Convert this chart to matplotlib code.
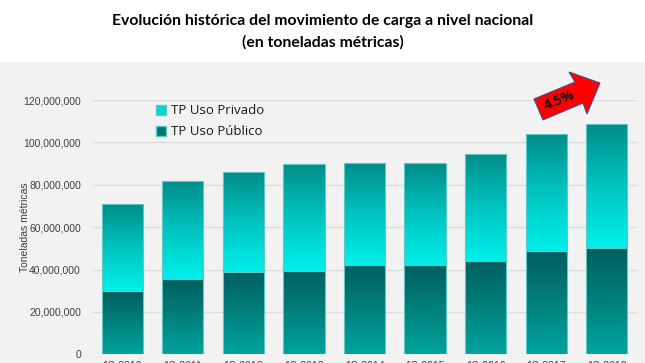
import numpy as np
import matplotlib
matplotlib.use("Agg")
import matplotlib.pyplot as plt
from matplotlib.colors import LinearSegmentedColormap
from matplotlib.patches import Patch, Polygon

categories = ["1S-2010", "1S-2011", "1S-2012", "1S-2013", "1S-2014",
              "1S-2015", "1S-2016", "1S-2017", "1S-2018"]
uso_publico = [29.8e6, 35.3e6, 38.9e6, 39.2e6, 42.2e6, 42.2e6, 43.9e6, 48.7e6, 50.1e6]
total = [70.7e6, 82.0e6, 86.0e6, 90.0e6, 90.4e6, 90.2e6, 94.6e6, 103.9e6, 108.6e6]
uso_privado = [t - p for t, p in zip(total, uso_publico)]
yticks = [0, 20e6, 40e6, 60e6, 80e6, 100e6, 120e6]

W, H = 645, 363
fig = plt.figure(figsize=(W / 100, H / 100), dpi=100)
fig.patch.set_facecolor("white")

# gray panel background
bg = fig.add_axes([0, 0, 1, (H - 62) / H])
bg.set_facecolor("#f2f2f2")
bg.set_xticks([]); bg.set_yticks([])
for s in bg.spines.values():
    s.set_visible(False)
bg.set_zorder(0)

ax = fig.add_axes([92 / W, (H - 354.3) / H, (637 - 92) / W, (354.3 - 100) / H])
ax.set_zorder(1)
ax.patch.set_alpha(0)

cm_light = LinearSegmentedColormap.from_list("light", ["#00efeb", "#00c4c0", "#008c88"])
cm_dark = LinearSegmentedColormap.from_list("dark", ["#00a39f", "#00807c", "#005e5e"])
grad = np.linspace(0, 1, 256).reshape(-1, 1)

x = np.arange(len(categories))
width = 0.68
bars_pub = ax.bar(x, uso_publico, width, facecolor="none", edgecolor="#5fc8c4",
                  linewidth=0.8, zorder=3)
bars_priv = ax.bar(x, uso_privado, width, bottom=uso_publico, facecolor="none",
                   edgecolor="#5fc8c4", linewidth=0.8, zorder=3)
for bp, bv, pub, priv in zip(bars_pub, bars_priv, uso_publico, uso_privado):
    x0 = bp.get_x()
    x1 = x0 + bp.get_width()
    im1 = ax.imshow(grad, extent=[x0 - 0.05, x1 + 0.05, 0, pub], origin="lower",
                    aspect="auto", cmap=cm_dark, zorder=2, interpolation="bilinear")
    im1.set_clip_path(bp)
    im2 = ax.imshow(grad, extent=[x0 - 0.05, x1 + 0.05, pub, pub + priv], origin="lower",
                    aspect="auto", cmap=cm_light, zorder=2, interpolation="bilinear")
    im2.set_clip_path(bv)

ax.set_xlim(-0.5, len(categories) - 0.5)
ax.set_ylim(0, 120e6)
ax.set_yticks(yticks)
ax.set_yticklabels([f"{int(v):,}" for v in yticks], fontsize=7.5, color="#404040",
                   family="Liberation Sans")
ax.set_xticks(x)
ax.set_xticklabels(categories, fontsize=7.5, color="#404040", family="Liberation Sans")
ax.tick_params(axis="both", length=0, pad=5)
ax.tick_params(axis="y", pad=8)
ax.yaxis.grid(True, color="#dcdcdc", linewidth=1)
ax.set_axisbelow(True)
for s in ax.spines.values():
    s.set_visible(False)
ax.set_ylabel("Toneladas métricas", fontsize=7.5, color="#404040",
              family="Liberation Sans")
ax.yaxis.set_label_coords((30 - 92) / 545, 0.5)

handles = [Patch(facecolor="#00d8d4", edgecolor="#5fc8c4", label="TP Uso Privado"),
           Patch(facecolor="#007370", edgecolor="#5fc8c4", label="TP Uso Público")]
leg = ax.legend(handles=handles, loc="upper left", bbox_to_anchor=(0.095, 1.03),
                frameon=False, prop={"family": "Open Sans", "size": 9.5},
                handlelength=0.8, handleheight=0.8, handletextpad=0.4, labelspacing=0.6)
for t in leg.get_texts():
    t.set_color("#1a1a1a")

fig.text(0.5, 1 - 21 / H, "Evolución histórica del movimiento de carga a nivel nacional",
         ha="center", va="center", fontsize=11.3, fontweight="bold", family="Lato")
fig.text(0.5, 1 - 42 / H, "(en toneladas métricas)",
         ha="center", va="center", fontsize=11.3, fontweight="bold", family="Lato")

# growth arrow (in figure pixels)
pts = [(534, 99), (575, 82), (569, 72), (600, 83), (587, 114), (583, 103), (543, 120)]
poly = Polygon([(px / W, 1 - py / H) for px, py in pts], closed=True,
               transform=fig.transFigure, facecolor="#ff0000", edgecolor="#4b4b8c",
               linewidth=0.8, zorder=5)
fig.patches.append(poly)
fig.text(559 / W, 1 - 100 / H, "4.5%", ha="center", va="center", rotation=22,
         fontsize=10, fontweight="bold", family="Open Sans", color="#111111", zorder=6)

fig.savefig("out.png", dpi=100)
